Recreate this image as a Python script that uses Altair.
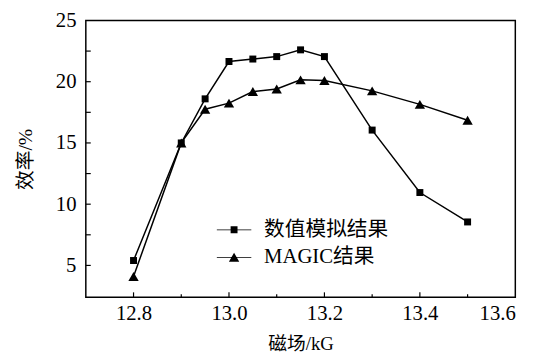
import altair as alt
import pandas as pd

# data
field_kG = [12.8, 12.9, 12.95, 13.0, 13.05, 13.1, 13.15, 13.2, 13.3, 13.4, 13.5]
numeric_eff = [5.4, 15.0, 18.6, 21.65, 21.85, 22.05, 22.6, 22.05, 16.05, 10.95, 8.55]
magic_eff = [4.1, 15.0, 17.75, 18.25, 19.2, 19.4, 20.15, 20.1, 19.25, 18.15, 16.85]
series_names = ["数值模拟结果", "MAGIC结果"]
x_ticks = [12.8, 12.9, 13.0, 13.1, 13.2, 13.3, 13.4, 13.5, 13.6]
x_major = [12.8, 13.0, 13.2, 13.4]
x_minor = [12.9, 13.1, 13.3, 13.5]
y_ticks = [5, 7.5, 10, 12.5, 15, 17.5, 20, 22.5, 25]

rows = []
for x, v in zip(field_kG, numeric_eff):
    rows.append({"x": x, "y": v, "series": series_names[0]})
for x, v in zip(field_kG, magic_eff):
    rows.append({"x": x, "y": v, "series": series_names[1]})
df = pd.DataFrame(rows)
df["lg"] = df["series"]

NUM_FONT = "'Liberation Serif', 'DejaVu Serif', serif"
FONT = "'Liberation Serif', 'Noto Sans CJK SC', serif"
W, H = 436, 281

xs = alt.Scale(domain=[12.7, 13.6], nice=False, zero=False)
ys = alt.Scale(domain=[2.4, 25], nice=False, zero=False)

x_axis = alt.Axis(values=x_ticks,
                  labelExpr="round(datum.value*10) % 2 == 0 ? format(datum.value, '.1f') : ''",
                  ticks=False, labelPadding=6, titlePadding=11,
                  labelFont=NUM_FONT, labelFontSize=21, titleFont=FONT, titleFontSize=19,
                  titleFontWeight="normal", labelColor="black", titleColor="black",
                  grid=False, domain=False)
y_axis = alt.Axis(values=y_ticks,
                  labelExpr="datum.value % 5 == 0 ? format(datum.value, 'd') : ''",
                  ticks=False, labelPadding=10, titlePadding=20,
                  labelFont=NUM_FONT, labelFontSize=21, titleFont=FONT, titleFontSize=20,
                  titleFontWeight="normal", labelColor="black", titleColor="black",
                  grid=False, domain=False)

lines = alt.Chart(df).mark_line(color="black", strokeWidth=1.5).encode(
    x=alt.X("x:Q", scale=xs, title="磁场/kG", axis=x_axis),
    y=alt.Y("y:Q", scale=ys, title="效率/%", axis=y_axis),
    detail="series:N",
)

points = alt.Chart(df).mark_point(filled=True, color="black", opacity=1).encode(
    x=alt.X("x:Q", scale=xs, title="磁场/kG", axis=x_axis),
    y=alt.Y("y:Q", scale=ys, title="效率/%", axis=y_axis),
    shape=alt.Shape("series:N", scale=alt.Scale(domain=series_names, range=["square", "triangle-up"]), legend=None),
    size=alt.Size("series:N", scale=alt.Scale(domain=series_names, range=[50, 110]), legend=None),
)

# inward tick marks drawn as short rules positioned by the scales
xmaj = alt.Chart(pd.DataFrame({"v": x_major})).mark_rule(color="black", strokeWidth=1.2).encode(
    x=alt.X("v:Q", scale=xs, title="磁场/kG", axis=x_axis), y=alt.value(H), y2=alt.value(H - 5))
xmin = alt.Chart(pd.DataFrame({"v": x_minor})).mark_rule(color="black", strokeWidth=1.2).encode(
    x=alt.X("v:Q", scale=xs, title="磁场/kG", axis=x_axis), y=alt.value(H), y2=alt.value(H - 3))
ytk = alt.Chart(pd.DataFrame({"v": y_ticks[:-1]})).mark_rule(color="black", strokeWidth=1.2).encode(
    y=alt.Y("v:Q", scale=ys, title="效率/%", axis=y_axis), x=alt.value(0), x2=alt.value(5))

sq_path = "M-1,-0.022H1V0.022H-1ZM-0.2,-0.2H0.2V0.2H-0.2Z"
tri_path = "M-1,-0.022H1V0.022H-1ZM0,-0.27L0.3,0.25H-0.3Z"

legend_layer = alt.Chart(df).mark_point(filled=True, color="black", opacity=0).encode(
    x=alt.X("x:Q", scale=xs, title="磁场/kG", axis=x_axis),
    y=alt.Y("y:Q", scale=ys, title="效率/%", axis=y_axis),
    shape=alt.Shape(
        "lg:N",
        scale=alt.Scale(domain=series_names, range=[sq_path, tri_path]),
        legend=alt.Legend(
            title=None, orient="none", legendX=133, legendY=195,
            symbolSize=1225, symbolOpacity=1, symbolFillColor="black",
            symbolStrokeColor="black", symbolStrokeWidth=0,
            labelFont=FONT, labelFontSize=21, labelColor="black",
            labelOffset=13, rowPadding=-21, padding=0,
        ),
    ),
)

chart = (
    alt.layer(lines, xmaj, xmin, ytk, points, legend_layer)
    .resolve_scale(shape="independent", size="independent")
    .properties(width=W, height=H, autosize="none",
                padding={"left": 79, "top": 10, "right": 21, "bottom": 59})
    .configure_view(stroke="black", strokeWidth=1.5)
)

chart.save("out.html", embed_options={"renderer": "svg", "actions": False})
